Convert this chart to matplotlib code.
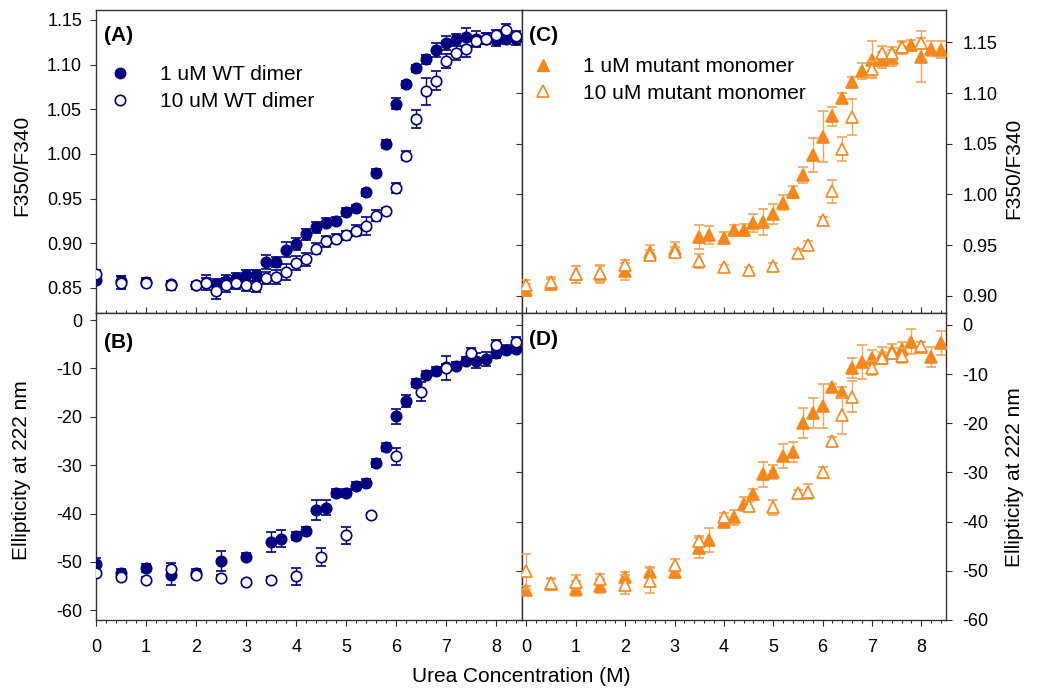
import numpy as np
import matplotlib
matplotlib.use("Agg")
import matplotlib.pyplot as plt
from matplotlib.ticker import MultipleLocator, FormatStrFormatter
from matplotlib.lines import Line2D

plt.rcParams['font.family'] = ['Liberation Sans', 'DejaVu Sans']
plt.rcParams['axes.unicode_minus'] = False

# ---- data ----
# panel A: intrinsic fluorescence, WT dimer
urea_a = [0, 0.5, 1.0, 1.5, 2.0, 2.2, 2.4, 2.6, 2.8, 3.0, 3.2, 3.4, 3.6, 3.8, 4.0, 4.2,
          4.4, 4.6, 4.8, 5.0, 5.2, 5.4, 5.6, 5.8, 6.0, 6.2, 6.4, 6.6, 6.8, 7.0, 7.2,
          7.4, 7.6, 7.8, 8.0, 8.2, 8.4]
fl_wt1 = [0.859, 0.858, 0.857, 0.854, 0.853, 0.856, 0.854, 0.858, 0.861, 0.864, 0.864,
          0.879, 0.879, 0.893, 0.899, 0.910, 0.918, 0.923, 0.925, 0.935, 0.940, 0.957,
          0.979, 1.011, 1.056, 1.078, 1.096, 1.106, 1.116, 1.124, 1.128, 1.131, 1.129,
          1.129, 1.127, 1.129, 1.128]
fl_wt1_err = [0.004, 0.005, 0.004, 0.004, 0.004, 0.008, 0.006, 0.006, 0.006, 0.006, 0.006,
              0.008, 0.006, 0.008, 0.007, 0.006, 0.006, 0.005, 0.004, 0.004, 0.003, 0.004,
              0.004, 0.004, 0.006, 0.004, 0.004, 0.005, 0.008, 0.008, 0.006, 0.010, 0.008,
              0.006, 0.006, 0.006, 0.006]
fl_wt10 = [0.8656, 0.856, 0.856, 0.853, 0.853, 0.856, 0.847, 0.853, 0.856, 0.853, 0.852,
           0.861, 0.862, 0.8675, 0.878, 0.882, 0.894, 0.902, 0.905, 0.909, 0.914, 0.9195,
           0.931, 0.936, 0.962, 0.998, 1.039, 1.070, 1.082, 1.104, 1.113, 1.117, 1.126,
           1.129, 1.133, 1.139, 1.132]
fl_wt10_err = [0.004, 0.007, 0.004, 0.005, 0.004, 0.005, 0.009, 0.008, 0.007, 0.006, 0.006,
               0.007, 0.008, 0.009, 0.008, 0.007, 0.006, 0.006, 0.005, 0.005, 0.006, 0.010,
               0.006, 0.004, 0.006, 0.005, 0.010, 0.015, 0.011, 0.008, 0.008, 0.009, 0.006,
               0.006, 0.006, 0.006, 0.006]

# x values shared by panels B, C, D (1 uM series)
urea_1 = [0, 0.5, 1.0, 1.5, 2.0, 2.5, 3.0, 3.5, 3.7, 4.0, 4.2, 4.4, 4.6, 4.8, 5.0, 5.2,
          5.4, 5.6, 5.8, 6.0, 6.2, 6.4, 6.6, 6.8, 7.0, 7.2, 7.4, 7.6, 7.8, 8.0, 8.2, 8.4]

# panel B: CD ellipticity, WT dimer
cd_wt1 = [-50.5, -52.3, -51.2, -52.8, -52.3, -49.8, -48.9, -45.9, -45.2, -44.7, -43.6,
          -39.3, -38.8, -35.7, -35.7, -34.3, -33.6, -29.5, -26.2, -19.9, -16.7, -13.0,
          -11.4, -10.5, -9.8, -9.5, -8.4, -8.4, -8.1, -6.8, -6.1, -5.9]
cd_wt1_err = [1.3, 0.8, 0.8, 2.0, 0.8, 2.0, 0.8, 2.0, 1.8, 0.8, 0.8, 2.0, 1.5, 0.8, 0.8, 0.8,
              0.8, 0.8, 0.8, 1.5, 1.2, 0.8, 0.8, 0.8, 0.8, 0.8, 0.8, 1.5, 1.5, 1.0, 1.0, 0.8]
urea_b10 = [0, 0.5, 1.0, 1.5, 2.0, 2.5, 3.0, 3.5, 4.0, 4.5, 5.0, 5.5, 6.0, 6.5, 7.0, 7.5, 8.0, 8.4]
cd_wt10 = [-52.3, -53.1, -53.7, -51.4, -52.8, -53.3, -54.2, -53.7, -53.0, -49.0, -44.5,
           -40.4, -28.2, -14.8, -10.0, -6.8, -5.2, -4.5]
cd_wt10_err = [0.5, 0.5, 0.5, 1.2, 0.5, 0.5, 0.5, 0.5, 1.8, 1.8, 1.8, 0.6, 1.8, 2.0, 2.5,
               1.0, 1.0, 1.0]

# panel C: intrinsic fluorescence, mutant monomer
fl_mut1 = [0.906, 0.912, 0.921, 0.921, 0.924, 0.943, 0.946, 0.958, 0.960, 0.957, 0.965,
           0.965, 0.9716, 0.973, 0.981, 0.992, 1.002, 1.019, 1.039, 1.057, 1.077, 1.0955,
           1.111, 1.122, 1.133, 1.133, 1.135, 1.145, 1.147, 1.136, 1.144, 1.143]
fl_mut1_err = [0.006, 0.005, 0.008, 0.008, 0.008, 0.007, 0.007, 0.012, 0.009, 0.006, 0.005,
               0.006, 0.009, 0.013, 0.010, 0.007, 0.006, 0.008, 0.017, 0.025, 0.009, 0.005,
               0.005, 0.008, 0.018, 0.008, 0.008, 0.006, 0.005, 0.025, 0.007, 0.008]
urea_m10 = [0, 0.5, 1.0, 1.5, 2.0, 2.5, 3.0, 3.5, 4.0, 4.5, 5.0, 5.5, 5.7, 6.0, 6.2, 6.4,
            6.6, 7.0, 7.2, 7.4, 7.6, 8.0]
fl_mut10 = [0.911, 0.914, 0.921, 0.922, 0.9305, 0.940, 0.943, 0.934, 0.928, 0.925, 0.929,
            0.942, 0.950, 0.975, 1.003, 1.045, 1.0765, 1.124, 1.140, 1.140, 1.145, 1.149]
fl_mut10_err = [0.005, 0.005, 0.008, 0.008, 0.005, 0.005, 0.005, 0.007, 0.002, 0.003, 0.003,
                0.004, 0.004, 0.003, 0.011, 0.012, 0.018, 0.008, 0.006, 0.005, 0.005, 0.005]

# panel D: CD ellipticity, mutant monomer
cd_mut1 = [-54.0, -52.6, -53.6, -53.1, -51.3, -50.3, -50.3, -45.4, -43.7, -40.1, -39.1,
           -36.4, -34.4, -30.4, -29.9, -26.7, -25.8, -20.0, -17.9, -16.5, -12.6, -13.7,
           -8.8, -7.6, -6.7, -6.1, -5.4, -4.9, -3.4, -4.5, -6.5, -3.7]
cd_mut1_err = [1.0, 1.0, 1.5, 1.5, 1.0, 1.0, 1.0, 2.0, 2.5, 1.0, 1.5, 1.5, 1.0, 2.5, 1.5,
               2.5, 2.0, 3.0, 3.0, 4.5, 0.6, 1.0, 2.0, 3.5, 1.5, 1.5, 1.5, 1.5, 2.5, 1.0,
               2.0, 2.5]
cd_mut10 = [-50.1, -52.4, -52.3, -51.6, -52.8, -52.0, -48.9, -43.9, -39.1, -36.8, -37.1,
            -34.1, -33.9, -30.0, -23.6, -18.4, -14.6, -8.8, -6.7, -5.8, -6.3, -4.4]
cd_mut10_err = [3.5, 1.0, 1.5, 1.0, 2.0, 2.5, 1.2, 1.0, 0.8, 0.8, 1.5, 0.5, 1.5, 1.2, 0.8,
                3.7, 3.2, 1.5, 1.2, 1.0, 1.5, 1.0]

navy = '#000080'
orange = '#F7871A'
orange_bar = '#F2A65A'

W, H = 1042, 691
fig = plt.figure(figsize=(W / 100, H / 100), dpi=100)


def box(x0, y0, x1, y1):
    # pixel box -> figure fraction rect
    return [x0 / W, 1 - y1 / H, (x1 - x0) / W, (y1 - y0) / H]


axA = fig.add_axes(box(96, 10, 521.5, 313))
axB = fig.add_axes(box(96, 313, 521.5, 620))
axC = fig.add_axes(box(521.5, 10, 946, 313))
axD = fig.add_axes(box(521.5, 313, 946, 620))


def series(ax, x, y, err, marker, color, barcolor, filled, ms):
    ax.errorbar(x, y, yerr=err, fmt=marker, ms=ms,
                mfc=color if filled else 'white', mec=color, mew=1.2,
                ecolor=barcolor, elinewidth=1.0, capsize=3.8, capthick=1.0,
                zorder=3 if filled else 4)


series(axA, urea_a, fl_wt1, fl_wt1_err, 'o', navy, navy, True, 7.5)
series(axA, urea_a, fl_wt10, fl_wt10_err, 'o', navy, navy, False, 7.5)
series(axB, urea_1, cd_wt1, cd_wt1_err, 'o', navy, navy, True, 7.5)
series(axB, urea_b10, cd_wt10, cd_wt10_err, 'o', navy, navy, False, 7.5)
series(axC, urea_1, fl_mut1, fl_mut1_err, '^', orange, orange_bar, True, 8)
series(axC, urea_m10, fl_mut10, fl_mut10_err, '^', orange, orange_bar, False, 8)
series(axD, urea_1, cd_mut1, cd_mut1_err, '^', orange, orange_bar, True, 8)
series(axD, urea_m10, cd_mut10, cd_mut10_err, '^', orange, orange_bar, False, 8)

axA.set_ylim(0.822, 1.161)
axB.set_ylim(-62, 1.45)
axC.set_ylim(0.883, 1.182)
axD.set_ylim(-60, 2.4)
axA.set_yticks(np.arange(0.85, 1.151, 0.05))
axC.set_yticks(np.arange(0.90, 1.151, 0.05))
axB.set_yticks(np.arange(-60, 1, 10))
axD.set_yticks(np.arange(-60, 1, 10))
axA.yaxis.set_major_formatter(FormatStrFormatter('%.2f'))
axC.yaxis.set_major_formatter(FormatStrFormatter('%.2f'))

for ax in (axA, axB):
    ax.set_xlim(0, 8.5)
for ax in (axC, axD):
    ax.set_xlim(-0.1, 8.5)

for ax in (axA, axB, axC, axD):
    ax.set_xticks(range(0, 9))
    ax.xaxis.set_minor_locator(MultipleLocator(0.2))
    for s in ax.spines.values():
        s.set_color('#333333')
        s.set_linewidth(1.0)
    ax.tick_params(colors='#333333', labelcolor='black', labelsize=13)

for ax in (axA, axC):
    ax.tick_params(axis='x', which='both', direction='in', bottom=True, top=False,
                   labelbottom=False)
    ax.tick_params(axis='x', which='major', length=4)
    ax.tick_params(axis='x', which='minor', length=2.5)
for ax in (axB, axD):
    ax.tick_params(axis='x', which='both', direction='out', bottom=True, top=False,
                   labelbottom=True, pad=10)
    ax.tick_params(axis='x', which='major', length=4)
    ax.tick_params(axis='x', which='minor', length=2.5)

for ax in (axA, axB):
    ax.tick_params(axis='y', direction='out', left=True, right=False, length=4, pad=6)
for ax in (axC, axD):
    ax.tick_params(axis='y', direction='out', left=True, right=True, labelleft=False,
                   labelright=True, length=4, pad=8)

# panel tags
for ax, tag, ty in ((axA, '(A)', 0.917), (axB, '(B)', 0.905),
                    (axC, '(C)', 0.917), (axD, '(D)', 0.915)):
    ax.text(0.018, ty, tag, transform=ax.transAxes, fontsize=15, fontweight='bold',
            va='center', ha='left')

# legends
legA = [Line2D([], [], ls='none', marker='o', ms=7.5, mfc=navy, mec=navy),
        Line2D([], [], ls='none', marker='o', ms=7.5, mfc='white', mec=navy, mew=1.2)]
axA.legend(legA, ['1 uM WT dimer', '10 uM WT dimer'], loc='upper left',
           bbox_to_anchor=(0.032, 0.817), frameon=False, fontsize=15, handlelength=1.0,
           handletextpad=1.4, labelspacing=0.37, borderpad=0, borderaxespad=0)
legC = [Line2D([], [], ls='none', marker='^', ms=8, mfc=orange, mec=orange),
        Line2D([], [], ls='none', marker='^', ms=8, mfc='white', mec=orange, mew=1.2)]
axC.legend(legC, ['1 uM mutant monomer', '10 uM mutant monomer'], loc='upper left',
           bbox_to_anchor=(0.0265, 0.845), frameon=False, fontsize=15, handlelength=1.0,
           handletextpad=1.4, labelspacing=0.37, borderpad=0, borderaxespad=0)

# axis titles
fig.text(22 / W, 1 - 165 / H, 'F350/F340', rotation=90, fontsize=15, ha='center', va='center')
fig.text(22 / W, 1 - 470 / H, 'Ellipticity at 222 nm', rotation=90, fontsize=15,
         ha='center', va='center')
fig.text(1014 / W, 1 - 168 / H, 'F350/F340', rotation=90, fontsize=15, ha='center', va='center')
fig.text(1014 / W, 1 - 477 / H, 'Ellipticity at 222 nm', rotation=90, fontsize=15,
         ha='center', va='center')
fig.text(521 / W, 1 - 677 / H, 'Urea Concentration (M)', fontsize=15, ha='center', va='center')

fig.savefig('out.png', dpi=100)
